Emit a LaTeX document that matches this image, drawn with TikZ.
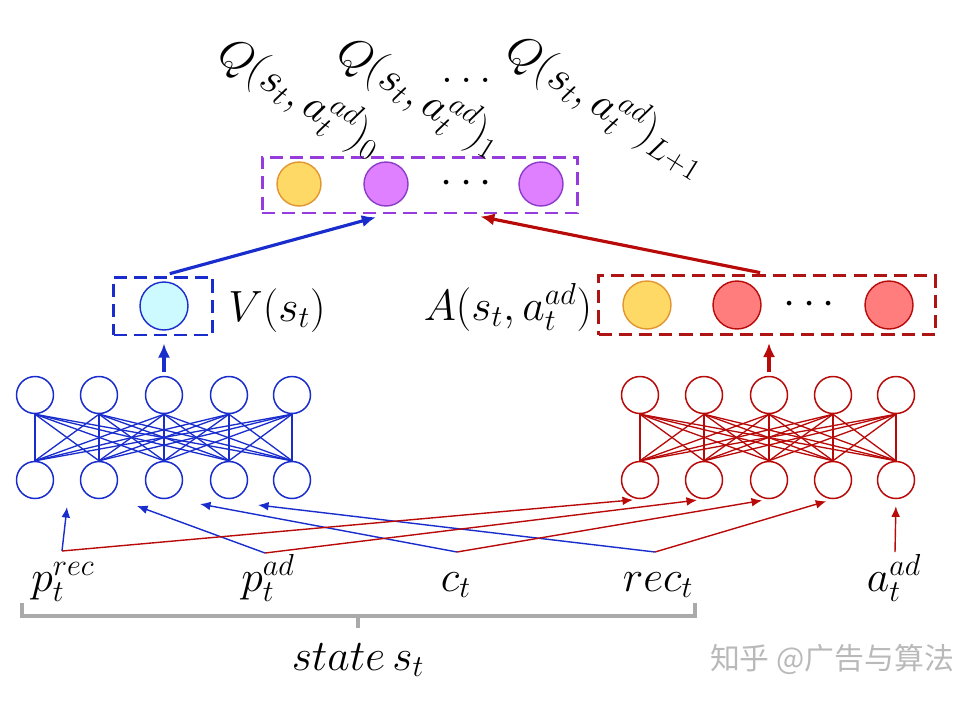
\documentclass[tikz,border=0pt]{standalone}
\usepackage{amsmath, amssymb}
\usepackage{fontspec}
\newfontfamily\cjkfont{Noto Sans CJK SC}
\usetikzlibrary{
    arrows.meta,
    positioning
}
\definecolor{netblue}{RGB}{25,45,205}
\definecolor{netred}{RGB}{185,10,10}
\definecolor{boxred}{RGB}{175,20,20}
\definecolor{qviolet}{RGB}{150,60,220}
\definecolor{qfill}{RGB}{222,128,255}
\definecolor{qedge}{RGB}{140,60,200}
\definecolor{yfill}{RGB}{255,217,102}
\definecolor{yedge}{RGB}{225,150,50}
\definecolor{afill}{RGB}{255,125,125}
\definecolor{vfill}{RGB}{205,250,255}
\definecolor{bracegray}{RGB}{170,170,170}

\begin{document}
\begin{tikzpicture}[x=0.02cm, y=-0.02cm,
    neuron/.style={circle, draw, line width=0.85pt, minimum size=0.74cm, inner sep=0pt},
    unit/.style={circle, line width=0.8pt, minimum size=0.96cm, inner sep=0pt},
    qunit/.style={circle, line width=0.8pt, minimum size=0.88cm, inner sep=0pt},
    dashbox/.style={draw, line width=1.7pt, dash pattern=on 7.5pt off 4pt, inner sep=0pt},
    lbl/.style={font=\fontsize{26}{31}\selectfont, inner sep=0pt},
    uparrow/.style={-{Latex[length=8pt,width=7pt]}, line width=1.8pt},
    feed/.style={-{Latex[length=6pt,width=5pt]}, line width=0.8pt}]
    \useasboundingbox (0,0) rectangle (976,700);

    % Q layer
    \node[dashbox, draw=qviolet, minimum width=6.32cm, minimum height=1.12cm] (qbox) at (420,185) {};
    \node[qunit, draw=yedge, fill=yfill] (q0) at (299,184) {};
    \node[qunit, draw=qedge, fill=qfill] (q1) at (386,184) {};
    \node[lbl]                           (qdots) at (470,184) {$\cdots$};
    \node[qunit, draw=qedge, fill=qfill] (qL) at (541,184) {};

    \node[lbl, rotate=-32] (qlab0) at (301,97) {$Q(s_t, a_t^{ad})_0$};
    \node[lbl, rotate=-32] (qlab1) at (420,96) {$Q(s_t, a_t^{ad})_1$};
    \node[lbl]             (qldots) at (470,80) {$\dots$};
    \node[lbl, rotate=-32] (qlabL) at (607,106) {$Q(s_t, a_t^{ad})_{L+1}$};

    % value / advantage
    \node[dashbox, draw=netblue, minimum width=1.98cm, minimum height=1.16cm] (vbox) at (163,306) {};
    \node[unit, draw=netblue, fill=vfill] (v) at (164,306) {};
    \node[lbl, anchor=base] (vlab) at (277,321) {$V(s_t)$};

    \node[dashbox, draw=boxred, minimum width=6.74cm, minimum height=1.18cm] (abox) at (767,305) {};
    \node[unit, draw=yedge, fill=yfill]  (a0) at (647,305) {};
    \node[unit, draw=netred, fill=afill] (a1) at (737,305) {};
    \node[lbl]                           (adots) at (813,305) {$\cdots$};
    \node[unit, draw=netred, fill=afill] (aL) at (889,305) {};
    \node[lbl, anchor=base] (alab) at (508,320) {$A(s_t, a_t^{ad})$};

    % the two networks
    \foreach \i/\x in {1/35,2/99,3/164,4/229,5/292} {
        \node[neuron, draw=netblue] (lt\i) at (\x,395) {};
        \node[neuron, draw=netblue] (lb\i) at (\x,480) {};
    }
    \foreach \i/\x in {1/640,2/704,3/769,4/833,5/896} {
        \node[neuron, draw=netred] (rt\i) at (\x,395) {};
        \node[neuron, draw=netred] (rb\i) at (\x,480) {};
    }
    \foreach \i in {1,...,5}
        \foreach \j in {1,...,5} {
            \draw[netblue, line width=0.75pt] (lt\i.south) -- (lb\j.north);
            \draw[netred, line width=0.75pt]  (rt\i.south) -- (rb\j.north);
        }

    \draw[uparrow, netblue, shorten <=2pt, shorten >=4pt] (lt3.north) -- (lt3.north |- vbox.south);
    \draw[uparrow, netred, shorten <=2pt, shorten >=4pt]  (rt3.north) -- (rt3.north |- abox.south);
    \draw[uparrow, netblue, shorten <=4pt, shorten >=6pt] (vbox.north) -- (qbox.south -| q1);
    \draw[uparrow, netred, shorten <=4pt, shorten >=6pt]  (abox.north) -- (qbox.south -| qdots);

    % inputs
    \node[lbl, anchor=base] (prec) at (63,591)  {$p_t^{rec}$};
    \node[lbl, anchor=base] (pad)  at (268,591) {$p_t^{ad}$};
    \node[lbl, anchor=base] (ct)   at (456,591) {$c_t$};
    \node[lbl, anchor=base] (rect) at (658,591) {$rec_t$};
    \node[lbl, anchor=base] (aad)  at (894,591) {$a_t^{ad}$};

    \coordinate (jprec) at (62,551);
    \coordinate (jpad)  at (265,553);
    \coordinate (jct)   at (457,552);
    \coordinate (jrec)  at (655,552);
    \coordinate (jaad)  at (895,552);
    \coordinate (in1) at (67,507);
    \coordinate (in2) at (137,506);
    \coordinate (in3) at (200,504);
    \coordinate (in4) at (258,505);

    \draw[feed, netblue] (jprec) -- (in1);
    \draw[feed, netblue] (jpad)  -- (in2);
    \draw[feed, netblue] (jct)   -- (in3);
    \draw[feed, netblue] (jrec)  -- (in4);
    \draw[feed, netred, shorten >=4pt] (jprec) -- (rb1.south);
    \draw[feed, netred, shorten >=4pt] (jpad)  -- (rb2.south);
    \draw[feed, netred, shorten >=4pt] (jct)   -- (rb3.south);
    \draw[feed, netred, shorten >=4pt] (jrec)  -- (rb4.south);
    \draw[feed, netred, shorten >=4pt] (jaad)  -- (rb5.south);

    % brace
    \draw[bracegray, line width=2.2pt] (22,603) |- (695,616) -- (695,603)
        (358,616) -- (358,628);
    \node[lbl, anchor=base] (state) at (358,670) {$state\,s_t$};

    \node[font=\cjkfont\fontsize{17}{20}\selectfont, text=gray!55] (mark) at (832,659) {知乎 @广告与算法};
\end{tikzpicture}
\end{document}
